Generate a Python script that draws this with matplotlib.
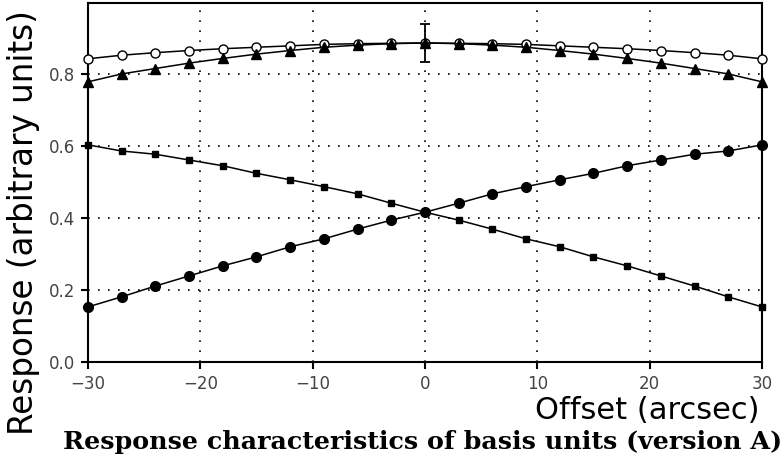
import numpy as np
import matplotlib
matplotlib.use('Agg')
import matplotlib.pyplot as plt

# offsets (arcsec)
offset = np.arange(-30, 31, 3)

# basis unit responses
resp_open = [0.842, 0.852, 0.859, 0.865, 0.870, 0.874, 0.878, 0.882, 0.884, 0.885, 0.886,
             0.885, 0.884, 0.882, 0.878, 0.874, 0.870, 0.865, 0.859, 0.852, 0.842]
resp_tri = [0.778, 0.800, 0.815, 0.830, 0.843, 0.855, 0.865, 0.874, 0.880, 0.884, 0.886,
            0.884, 0.880, 0.874, 0.865, 0.855, 0.843, 0.830, 0.815, 0.800, 0.778]
resp_sq = [0.603, 0.586, 0.577, 0.561, 0.545, 0.524, 0.506, 0.487, 0.467, 0.441, 0.416,
           0.394, 0.369, 0.342, 0.320, 0.292, 0.267, 0.239, 0.211, 0.181, 0.153]
resp_dot = resp_sq[::-1]

err_x = [0]
err_y = [0.886]
err_e = [0.052]

xticks = [-30, -20, -10, 0, 10, 20, 30]
yticks = [0.0, 0.2, 0.4, 0.6, 0.8]

fig = plt.figure(figsize=(7.84, 4.59), dpi=100)
ax = fig.add_axes([0.1122, 0.2113, 0.8597, 0.7822])

kw = dict(color='black', lw=1.1, clip_on=False, zorder=3)
ax.plot(offset, resp_open, marker='o', ms=6.5, mfc='white', mew=1.0, **kw)
ax.plot(offset, resp_tri, marker='^', ms=6.5, **kw)
ax.plot(offset, resp_sq, marker='s', ms=5, **kw)
ax.plot(offset, resp_dot, marker='o', ms=7, **kw)
ax.errorbar(err_x, err_y, yerr=err_e, fmt='none', ecolor='black', elinewidth=1.3,
            capsize=3.3, capthick=1.3, zorder=4)

ax.set_xlim(-30, 30)
ax.set_ylim(0, 0.997)
ax.set_xticks(xticks)
ax.set_yticks(yticks)
ax.set_xticklabels([str(t).replace('-', '\u2212') for t in xticks])
ax.set_yticklabels(['%.1f' % t for t in yticks])
ax.grid(True, color='black', linestyle=(0, (1, 5)), linewidth=1.2)
ax.tick_params(direction='out', length=5, width=1.5, labelsize=12, colors='black',
               labelcolor='#444444', pad=4)
for s in ax.spines.values():
    s.set_linewidth(1.5)

for lab in ax.get_xticklabels() + ax.get_yticklabels():
    lab.set_family('DejaVu Sans')

fig.text(0.03, 0.516, 'Response (arbitrary units)', rotation=90, ha='center', va='center',
         fontsize=23.5, family='DejaVu Sans')
fig.text(0.969, 0.105, 'Offset (arcsec)', ha='right', va='center',
         fontsize=22, family='DejaVu Sans')
fig.text(0.539, 0.036, 'Response characteristics of basis units (version A)', ha='center',
         va='center', fontsize=18.3, family='DejaVu Serif', fontweight='bold')

fig.savefig('out.png', dpi=100)
